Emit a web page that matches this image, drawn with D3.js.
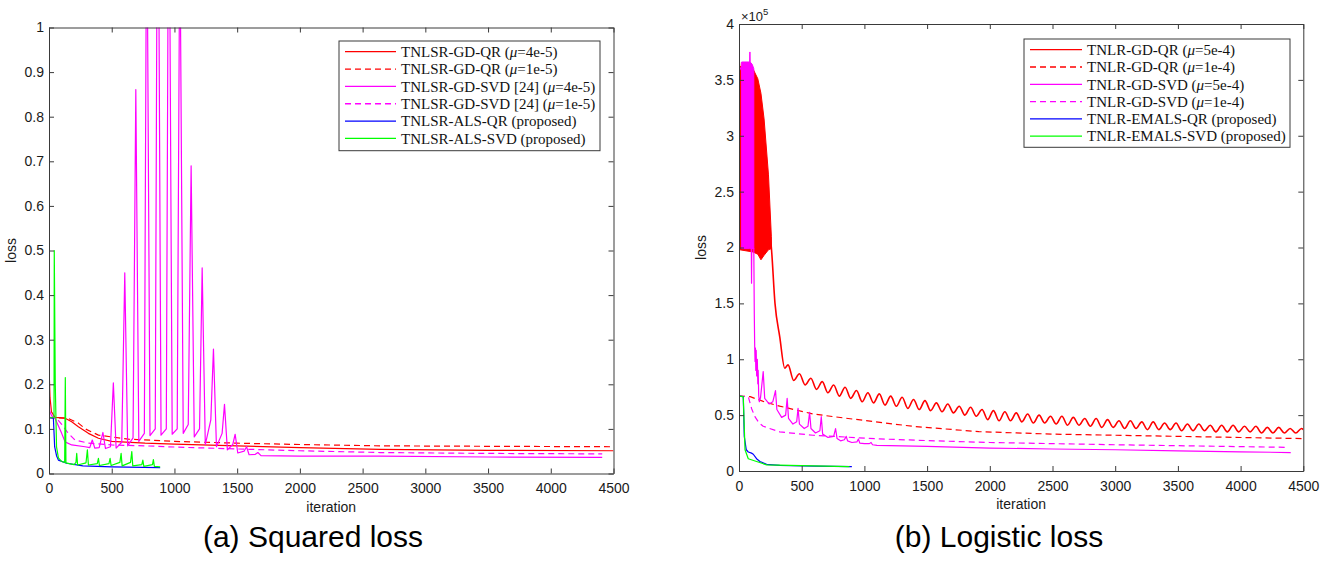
<!DOCTYPE html>
<html><head><meta charset="utf-8">
<script src="https://cdn.jsdelivr.net/npm/d3@7"></script>
<style>body{margin:0;background:#fff}</style>
</head><body>
<svg id="chart" width="1325" height="561" xmlns="http://www.w3.org/2000/svg"></svg>
<script>
// ---------- shared ticks ----------
const iterTicks = [0,500,1000,1500,2000,2500,3000,3500,4000,4500];
const sqLossTicks = [0,0.1,0.2,0.3,0.4,0.5,0.6,0.7,0.8,0.9,1];
const lgLossTicks = [0,0.5,1,1.5,2,2.5,3,3.5,4];

// ---------- (a) Squared loss ----------
const sqLegend = [
  "TNLSR-GD-QR (μ=4e-5)",
  "TNLSR-GD-QR (μ=1e-5)",
  "TNLSR-GD-SVD [24] (μ=4e-5)",
  "TNLSR-GD-SVD [24] (μ=1e-5)",
  "TNLSR-ALS-QR (proposed)",
  "TNLSR-ALS-SVD (proposed)"
];
const sqGdQrA = [[0,0.24],[8,0.17],[20,0.138],[48,0.126],[128,0.124],[181,0.116],[234,0.105],[314,0.09],[394,0.079],[500,0.072],[766,0.068],[1000,0.066],[1500,0.062],[2000,0.058],[2640,0.054],[3500,0.052],[4500,0.051]];
const sqGdQrB = [[0,0.126],[150,0.124],[234,0.113],[290,0.1],[394,0.086],[633,0.077],[1000,0.072],[1500,0.068],[2000,0.065],[2640,0.062],[3500,0.061],[4500,0.06]];
const sqGdSvdA = [[0,0.2],[5,0.14],[20,0.13],[48,0.124],[101,0.09],[128,0.071],[181,0.064],[287,0.06],[325,0.058],[345,0.075],[365,0.057],[400,0.058],[430,0.092],[450,0.056],[490,0.06],[513,0.203],[535,0.057],[580,0.07],[604,0.45],[627,0.062],[670,0.08],[692,0.861],[716,0.072],[760,0.09],[779,1.35],[805,0.085],[847,0.1],[867,1.6],[893,0.086],[935,0.1],[955,1.5],[982,0.088],[1022,0.1],[1043,1.25],[1070,0.09],[1110,0.11],[1133,0.69],[1158,0.082],[1200,0.1],[1221,0.461],[1246,0.065],[1290,0.12],[1311,0.279],[1335,0.06],[1380,0.09],[1399,0.155],[1422,0.053],[1465,0.065],[1484,0.088],[1505,0.046],[1555,0.05],[1575,0.06],[1595,0.042],[1645,0.043],[1665,0.047],[1690,0.04],[2000,0.039],[2640,0.039],[3500,0.037],[4410,0.036]];
const sqGdSvdB = [[0,0.125],[60,0.124],[101,0.11],[154,0.09],[207,0.075],[314,0.068],[500,0.064],[766,0.062],[1032,0.059],[1500,0.055],[2000,0.051],[2640,0.047],[3500,0.045],[4410,0.044]];
const sqAlsQr = [[0,0.125],[35,0.124],[45,0.06],[60,0.04],[75,0.03],[140,0.023],[270,0.017],[500,0.015],[886,0.013]];
const sqAlsSvd = [[0,0.125],[40,0.125],[42,0.5],[50,0.2],[60,0.06],[75,0.035],[100,0.027],[125,0.025],[130,0.215],[135,0.024],[200,0.02],[215,0.025],[221,0.045],[228,0.019],[295,0.024],[306,0.053],[314,0.019],[385,0.022],[394,0.034],[402,0.018],[478,0.022],[487,0.034],[495,0.018],[565,0.025],[575,0.045],[583,0.017],[650,0.025],[660,0.049],[668,0.017],[740,0.02],[748,0.03],[756,0.016],[825,0.02],[832,0.031],[840,0.016],[886,0.015]];

// ---------- (b) Logistic loss (x 1e5) ----------
const lgLegend = [
  "TNLR-GD-QR (μ=5e-4)",
  "TNLR-GD-QR (μ=1e-4)",
  "TNLR-GD-SVD (μ=5e-4)",
  "TNLR-GD-SVD (μ=1e-4)",
  "TNLR-EMALS-QR (proposed)",
  "TNLR-EMALS-SVD (proposed)"
];
const lgGdQrABandIter = [5,111,150,175,200,235,258];
const lgGdQrABandHi   = [3.62,3.60,3.51,3.38,3.15,2.65,2.1];
const lgGdQrABandLo   = [1.98,1.96,1.94,1.89,1.93,1.98,1.99];
const lgGdQrA = [[0,3.69],[5,3.62],[258,2.0],[287,1.5],[325,1.2],[365,0.92],
 [391,0.95],[436,0.81],[482,0.87],[527,0.77],[573,0.83],[618,0.73],[664,0.80],[709,0.70],[755,0.77],[800,0.67],
 [846,0.75],[891,0.65],[937,0.72],[982,0.62],[1028,0.70],[1073,0.61],[1119,0.69],[1164,0.59],[1210,0.67],[1255,0.58],
 [1301,0.66],[1346,0.56],[1392,0.64],[1437,0.55],[1483,0.63],[1528,0.54],[1574,0.61],[1619,0.53],[1665,0.60],[1710,0.52],
 [1756,0.58],[1801,0.50],[1847,0.57],[1892,0.49],[1938,0.55],[1983,0.46],[2029,0.54],[2074,0.45],[2120,0.53],[2165,0.45],
 [2211,0.52],[2256,0.44],[2302,0.51],[2347,0.43],[2393,0.50],[2438,0.43],[2484,0.49],[2529,0.42],[2575,0.49],[2620,0.41],
 [2666,0.48],[2711,0.41],[2757,0.47],[2802,0.40],[2848,0.47],[2893,0.39],[2939,0.46],[2984,0.39],[3030,0.45],[3075,0.38],
 [3121,0.45],[3166,0.38],[3212,0.44],[3257,0.37],[3303,0.44],[3348,0.37],[3394,0.43],[3439,0.37],[3485,0.43],[3530,0.36],
 [3576,0.42],[3621,0.36],[3667,0.42],[3712,0.36],[3758,0.41],[3803,0.35],[3849,0.41],[3894,0.35],[3940,0.41],[3985,0.35],
 [4031,0.40],[4076,0.35],[4122,0.40],[4167,0.34],[4213,0.39],[4258,0.34],[4304,0.39],[4349,0.34],[4395,0.38],[4440,0.34],
 [4486,0.38],[4500,0.37]];
const lgGdQrB = [[0,0.67],[89,0.665],[200,0.62],[325,0.58],[590,0.51],[870,0.47],[1384,0.40],[1913,0.352],[2500,0.33],[3000,0.32],[4000,0.30],[4500,0.29]];
const lgGdSvdABandIter = [21,85,87,89,105,118];
const lgGdSvdABandHi   = [3.66,3.66,3.75,3.66,3.64,3.6];
const lgGdSvdABandLo   = [1.99,1.99,1.99,1.99,1.99,1.99];
const lgGdSvdA = [[0,0.67],[1,3.58],[21,3.62],[98,2.0],[100,1.68],[102,2.0],[118,1.99],[122,1.4],[125,1.12],[128,0.98],[131,1.1],[134,0.9],[137,1.08],[141,0.85],[146,1.0],[150,0.78],[153,0.9],[157,0.68],[162,0.62],[172,0.66],[193,0.89],[205,0.65],[240,0.6],[270,0.62],[291,0.72],[302,0.55],[340,0.48],[372,0.5],[384,0.65],[395,0.47],[430,0.42],[460,0.44],[471,0.56],[482,0.42],[520,0.38],[550,0.4],[563,0.525],[574,0.38],[610,0.34],[645,0.36],[656,0.486],[667,0.33],[710,0.30],[755,0.31],[770,0.38],[782,0.29],[810,0.27],[840,0.28],[855,0.31],[866,0.27],[900,0.255],[940,0.26],[952,0.286],[963,0.25],[1000,0.245],[1040,0.245],[1053,0.255],[1065,0.235],[1100,0.23],[1500,0.22],[2000,0.205],[2500,0.197],[3000,0.19],[3500,0.18],[4000,0.172],[4400,0.165]];
const lgGdSvdB = [[0,0.67],[74,0.665],[100,0.56],[127,0.486],[160,0.43],[193,0.40],[325,0.35],[590,0.32],[1119,0.287],[1500,0.272],[2000,0.255],[3000,0.235],[4000,0.218],[4357,0.212]];
const lgEmalsQr = [[0,0.67],[34,0.665],[42,0.31],[58,0.19],[74,0.17],[100,0.16],[114,0.15],[140,0.11],[167,0.085],[220,0.06],[325,0.05],[600,0.043],[900,0.04]];
const lgEmalsSvd = [[0,0.67],[34,0.665],[48,0.19],[74,0.11],[140,0.085],[220,0.055],[590,0.045],[881,0.04]];

// ---------- drawing ----------
const RED = "#ff0000", MAG = "#ff00ff", BLUE = "#0000ff", GREEN = "#00ff00";
const AXIS = "#3a3a3a";
const svg = d3.select("#chart");
const defs = svg.append("defs");

function drawPanel(p) {
  const x = d3.scaleLinear().domain([0, 4500]).range([p.left, p.right]);
  const y = d3.scaleLinear().domain([0, p.ymax]).range([p.bottom, p.top]);
  const g = svg.append("g");
  defs.append("clipPath").attr("id", "clip" + p.id).append("rect")
    .attr("x", p.left).attr("y", p.top).attr("width", p.right - p.left).attr("height", p.bottom - p.top);
  const plot = g.append("g").attr("clip-path", `url(#clip${p.id})`);

  p.series.forEach(s => {
    if (s.band) {
      const area = d3.area().x(d => x(d[0])).y0(d => y(d[2])).y1(d => y(d[1]));
      plot.append("path").datum(s.band).attr("d", area)
        .attr("fill", s.color).attr("stroke", s.color).attr("stroke-width", 1);
    }
    const line = d3.line().x(d => x(d[0])).y(d => y(d[1])).curve(s.curve || d3.curveLinear);
    plot.append("path").datum(s.data).attr("d", line)
      .attr("fill", "none").attr("stroke", s.color)
      .attr("stroke-width", s.width || 1.2)
      .attr("stroke-dasharray", s.dash ? "6,4" : null)
      .attr("stroke-linejoin", "round");
  });

  const fmt = d => String(d);
  const styleAxis = sel => {
    sel.selectAll(".domain").attr("stroke", AXIS).attr("stroke-width", 1);
    sel.selectAll(".tick line").attr("stroke", AXIS).attr("stroke-width", 1);
    sel.selectAll("text").attr("fill", "#1a1a1a")
      .style("font-family", "'Liberation Sans', Arial, sans-serif").style("font-size", "14px");
  };
  g.append("g").attr("transform", `translate(0,${p.bottom})`)
    .call(d3.axisBottom(x).tickValues(iterTicks).tickFormat(fmt).tickSizeInner(-5).tickSizeOuter(0).tickPadding(10))
    .call(styleAxis);
  g.append("g").attr("transform", `translate(0,${p.top})`)
    .call(d3.axisTop(x).tickValues(iterTicks).tickFormat("").tickSizeInner(-5).tickSizeOuter(0))
    .call(styleAxis);
  g.append("g").attr("transform", `translate(${p.left},0)`)
    .call(d3.axisLeft(y).tickValues(p.yTicks).tickFormat(fmt).tickSizeInner(-5).tickSizeOuter(0).tickPadding(5))
    .call(styleAxis);
  g.append("g").attr("transform", `translate(${p.right},0)`)
    .call(d3.axisRight(y).tickValues(p.yTicks).tickFormat("").tickSizeInner(-5).tickSizeOuter(0))
    .call(styleAxis);

  // axis labels
  g.append("text").attr("x", (p.left + p.right) / 2).attr("y", p.bottom + 38)
    .attr("text-anchor", "middle").attr("fill", "#1a1a1a")
    .style("font-family", "'Liberation Sans', Arial, sans-serif").style("font-size", "14px").text("iteration");
  g.append("text").attr("transform", `translate(${p.left - p.ylabelOff},${(p.top + p.bottom) / 2}) rotate(-90)`)
    .attr("text-anchor", "middle").attr("fill", "#1a1a1a")
    .style("font-family", "'Liberation Sans', Arial, sans-serif").style("font-size", "14px").text("loss");

  // legend
  const L = p.legend;
  g.append("rect").attr("x", L.x0).attr("y", L.y0).attr("width", L.x1 - L.x0).attr("height", L.y1 - L.y0)
    .attr("fill", "#fff").attr("stroke", AXIS).attr("stroke-width", 1);
  p.series.forEach((s, i) => {
    const ry = L.row0 + i * L.rowStep;
    g.append("line").attr("x1", L.lx0).attr("x2", L.lx1).attr("y1", ry).attr("y2", ry)
      .attr("stroke", s.color).attr("stroke-width", 1.3).attr("stroke-dasharray", s.dash ? "6,4" : null);
    const t = g.append("text").attr("x", L.tx).attr("y", ry).attr("dy", "0.35em").attr("fill", "#111")
      .style("font-family", "'Liberation Serif', 'DejaVu Serif', serif").style("font-size", "15px");
    const parts = L.labels[i].split("μ");
    t.append("tspan").text(parts[0]);
    if (parts.length > 1) {
      t.append("tspan").attr("font-style", "italic").text("μ");
      t.append("tspan").text(parts[1]);
    }
  });

  // caption
  svg.append("text").attr("x", p.capX).attr("y", 547).attr("text-anchor", "middle").attr("fill", "#000")
    .style("font-family", "'Liberation Sans', Arial, sans-serif").style("font-size", "30px").text(p.caption);
  return {x, y};
}

drawPanel({
  id: "a", left: 49, right: 613.5, top: 27.5, bottom: 473.5, ymax: 1, yTicks: sqLossTicks, ylabelOff: 33,
  caption: "(a) Squared loss", capX: 313,
  series: [
    {data: sqGdQrA, color: RED},
    {data: sqGdQrB, color: RED, dash: true},
    {data: sqGdSvdA, color: MAG},
    {data: sqGdSvdB, color: MAG, dash: true},
    {data: sqAlsQr, color: BLUE},
    {data: sqAlsSvd, color: GREEN}
  ],
  legend: {x0: 339, x1: 600, y0: 41, y1: 150.7, row0: 51.7, rowStep: 17.35, lx0: 345, lx1: 396, tx: 401, labels: sqLegend}
});

drawPanel({
  id: "b", left: 739, right: 1303.3, top: 24, bottom: 471, ymax: 4, yTicks: lgLossTicks, ylabelOff: 33,
  caption: "(b) Logistic loss", capX: 999,
  series: [
    {data: lgGdQrA, color: RED, curve: d3.curveMonotoneX, width: 1.6,
     band: d3.zip(lgGdQrABandIter, lgGdQrABandHi, lgGdQrABandLo)},
    {data: lgGdQrB, color: RED, dash: true},
    {data: lgGdSvdA, color: MAG, band: d3.zip(lgGdSvdABandIter, lgGdSvdABandHi, lgGdSvdABandLo)},
    {data: lgGdSvdB, color: MAG, dash: true},
    {data: lgEmalsQr, color: BLUE},
    {data: lgEmalsSvd, color: GREEN}
  ],
  legend: {x0: 1024, x1: 1290, y0: 39, y1: 147.3, row0: 49.7, rowStep: 17.3, lx0: 1030, lx1: 1082, tx: 1087, labels: lgLegend}
});

// exponent label for panel (b)
const ex = svg.append("text").attr("x", 741).attr("y", 21).attr("fill", "#1a1a1a")
  .style("font-family", "'Liberation Sans', Arial, sans-serif").style("font-size", "13px");
ex.append("tspan").text("×10");
ex.append("tspan").attr("dy", "-6").style("font-size", "9.5px").text("5");
</script>
</body></html>
